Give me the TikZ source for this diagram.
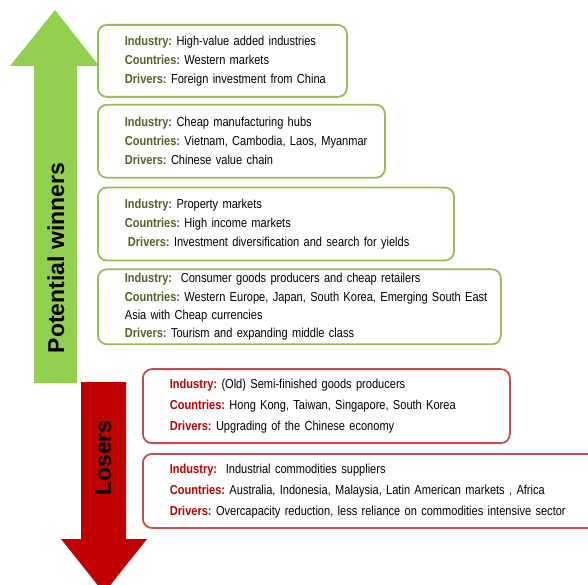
\documentclass[tikz,border=0pt]{standalone}
\usepackage{fontspec}
\setmainfont{Liberation Sans}[FakeStretch=0.85]
\newfontfamily\arrowfont{Liberation Sans}
\usetikzlibrary{positioning}
\definecolor{wingreen}{HTML}{92D050}
\definecolor{losered}{HTML}{C00000}
\definecolor{gborder}{HTML}{9BBB59}
\definecolor{rborder}{HTML}{C0504D}
\definecolor{glabel}{HTML}{4F6228}
\newcommand{\glab}[1]{\textcolor{glabel}{\textbf{#1}}}
\newcommand{\rlab}[1]{\textcolor{losered}{\textbf{#1}}}
\frenchspacing

\begin{document}
\begin{tikzpicture}[x=1pt,y=-1pt,font=\fontsize{13}{19}\selectfont,
  box/.style={rounded corners=9pt,line width=1.8pt,align=left,inner xsep=0pt,inner ysep=0pt,anchor=north west,
    execute at begin node={\leftskip=27pt}},
  gbox/.style={box,draw=gborder,minimum height=73pt},
  rbox/.style={box,draw=rborder,minimum height=74pt,font=\fontsize{13}{21}\selectfont},
  lbl/.style={font=\arrowfont\bfseries\fontsize{23}{23}\selectfont,rotate=90}]
 \useasboundingbox (0,0) rectangle (588,585);
 % the two arrows
 \fill[wingreen] (34,383) -- (34,66) -- (10,66) -- (55,10) -- (99,66) -- (77,66) -- (77,383) -- cycle;
 \fill[losered] (81,382) -- (126,382) -- (126,539) -- (147,539) -- (104,593) -- (61,539) -- (81,539) -- cycle;
 \node[lbl] (win) at (56,258) {Potential winners};
 \node[lbl] (lose) at (103,458) {Losers};
 % winners
 \node[gbox, text width=249pt, minimum height=72pt] (hv) at (97,24) {\glab{Industry:} High-value added industries\\ \glab{Countries:} Western markets\\ \glab{Drivers:} Foreign investment from China};
 \node[gbox, text width=287pt, below=6pt of hv.south west, anchor=north west] (cm) {\glab{Industry:} Cheap manufacturing hubs\\ \glab{Countries:} Vietnam, Cambodia, Laos, Myanmar\\ \glab{Drivers:} Chinese value chain};
 \node[gbox, text width=356pt, below=8pt of cm.south west, anchor=north west] (pm) {\glab{Industry:} Property markets\\ \glab{Countries:} High income markets\\ \hspace*{3pt}\glab{Drivers:} Investment diversification and search for yields};
 \node[gbox, text width=403pt, minimum height=75pt, font=\fontsize{13}{18.3}\selectfont, below=7pt of pm.south west, anchor=north west] (cg) {\glab{Industry:}\ \ Consumer goods producers and cheap retailers\\ \glab{Countries:} Western Europe, Japan, South Korea, Emerging South East\\ Asia with Cheap currencies\\ \glab{Drivers:} Tourism and expanding middle class};
 % losers
 \node[rbox, text width=367pt, below=23pt of cg.south west, anchor=north west, xshift=45pt] (sf) {\rlab{Industry:} (Old) Semi-finished goods producers\\ \rlab{Countries:} Hong Kong, Taiwan, Singapore, South Korea\\ \rlab{Drivers:} Upgrading of the Chinese economy};
 \node[rbox, text width=477pt, below=9pt of sf.south west, anchor=north west] (ic) {\rlab{Industry:}\ \ Industrial commodities suppliers\\ \rlab{Countries:} Australia, Indonesia, Malaysia, Latin American markets , Africa\\ \rlab{Drivers:} Overcapacity reduction, less reliance on commodities intensive sector};
\end{tikzpicture}
\end{document}
